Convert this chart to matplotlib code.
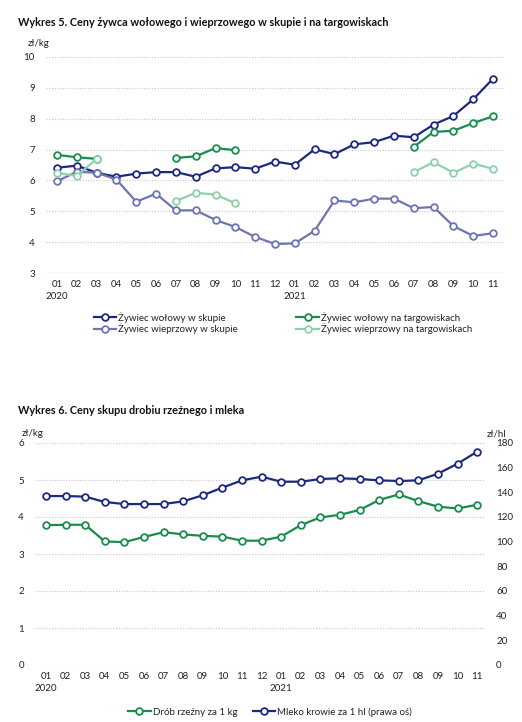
import numpy as np
import matplotlib
matplotlib.use("Agg")
import matplotlib.pyplot as plt

plt.rcParams['font.family'] = ['Lato', 'DejaVu Sans']

months = ['01','02','03','04','05','06','07','08','09','10','11','12',
          '01','02','03','04','05','06','07','08','09','10','11']
years = {0: '2020', 12: '2021'}
nan = np.nan

# Chart 5
wol_skup = [6.41, 6.48, 6.25, 6.12, 6.22, 6.27, 6.27, 6.12, 6.39, 6.43, 6.38, 6.61,
            6.51, 7.01, 6.85, 7.17, 7.24, 7.45, 7.40, 7.81, 8.09, 8.63, 9.30]
wol_targ = [6.83, 6.75, 6.70, nan, nan, nan, 6.73, 6.78, 7.05, 6.98, nan, nan,
            nan, nan, nan, nan, nan, nan, 7.09, 7.57, 7.61, 7.86, 8.08]
wiep_skup = [5.97, 6.28, 6.25, 6.03, 5.31, 5.57, 5.03, 5.03, 4.72, 4.49, 4.17, 3.94,
             3.96, 4.37, 5.35, 5.29, 5.41, 5.41, 5.10, 5.14, 4.52, 4.20, 4.29]
wiep_targ = [6.25, 6.14, 6.70, nan, nan, nan, 5.33, 5.60, 5.54, 5.26, nan, nan,
             nan, nan, nan, nan, nan, nan, 6.27, 6.59, 6.25, 6.54, 6.38]

# Chart 6
drob = [3.78, 3.79, 3.79, 3.34, 3.32, 3.46, 3.59, 3.53, 3.49, 3.47, 3.36, 3.36,
        3.47, 3.78, 3.99, 4.06, 4.19, 4.46, 4.61, 4.43, 4.28, 4.23, 4.33]
mleko = [137.0, 137.0, 136.5, 132.2, 130.5, 130.5, 130.5, 132.7, 137.6, 143.8, 149.7, 152.7,
         148.6, 148.6, 150.8, 151.4, 150.8, 149.7, 149.2, 149.7, 155.1, 163.2, 173.0]

C_DARK = '#1b2a7e'
C_GREEN = '#1a8c4e'
C_PURPLE = '#6f74b2'
C_LGREEN = '#8fd0aa'
TXT = '#222222'
GRID = '#c8c8c8'

W, H = 522, 722
fig = plt.figure(figsize=(W/100, H/100), dpi=100)

def box(l, t, r, b):
    return [l/W, 1-b/H, (r-l)/W, (b-t)/H]

x = np.arange(len(months))
xlabels = [m + ('\n' + years[i] if i in years else '') for i, m in enumerate(months)]
mk = dict(marker='o', markersize=4.8, markerfacecolor='white', markeredgewidth=1.3, linewidth=1.6)
FS = 7

def style(ax):
    for s in ax.spines.values():
        s.set_visible(False)
    ax.tick_params(length=0, labelsize=FS, colors=TXT)

# ---------- Chart 5 ----------
ax1 = fig.add_axes(box(46, 57, 503, 273))
ax1.set_xlim(-0.55, 22.5)
ax1.set_ylim(3, 10)
ax1.set_yticks(range(3, 11))
for v in range(4, 11):
    ax1.axhline(v, color=GRID, lw=0.8, ls=(0, (1, 1.5)), zorder=0)
ax1.axhline(3, color='#d0d0d0', lw=1.0, zorder=0)
l1, = ax1.plot(x, wol_skup, color=C_DARK, markeredgecolor=C_DARK, **mk)
l3, = ax1.plot(x, wiep_skup, color=C_PURPLE, markeredgecolor=C_PURPLE, **mk)
l2, = ax1.plot(x, wol_targ, color=C_GREEN, markeredgecolor=C_GREEN, **mk)
l4, = ax1.plot(x, wiep_targ, color=C_LGREEN, markeredgecolor=C_LGREEN, **mk)
ax1.set_xticks(x)
ax1.set_xticklabels(xlabels, linespacing=1.5)
style(ax1)
ax1.tick_params(axis='y', pad=8)
ax1.tick_params(axis='x', pad=5)
fig.text(18/W, 1-23/H, 'Wykres 5. Ceny żywca wołowego i wieprzowego w skupie i na targowiskach',
         fontsize=7.8, fontweight='bold', color='#111111', va='center', ha='left')
fig.text(28/W, 1-44/H, 'zł/kg', fontsize=FS, color=TXT, va='center', ha='left')
fig.legend([l1, l3, l2, l4],
           ['Żywiec wołowy w skupie', 'Żywiec wieprzowy w skupie',
            'Żywiec wołowy na targowiskach', 'Żywiec wieprzowy na targowiskach'],
           ncol=2, loc='upper center', bbox_to_anchor=(283/W, 1-307/H), frameon=False,
           fontsize=FS, handlelength=2.3, handletextpad=0.2, columnspacing=6.0,
           labelspacing=0.05, borderpad=0, labelcolor=TXT)

# ---------- Chart 6 ----------
ax2 = fig.add_axes(box(35, 443, 485, 665))
ax2.set_xlim(-0.56, 22.4)
ax2.set_ylim(0, 6)
ax2.set_yticks(range(0, 7))
for v in range(0, 7):
    ax2.axhline(v, color=GRID, lw=0.8, ls=(0, (1, 1.5)), zorder=0)
ax2.set_xticks(x)
ax2.set_xticklabels(xlabels, linespacing=1.5)
style(ax2)
ax2.tick_params(axis='y', pad=8)
ax2.tick_params(axis='x', pad=5)
ax3 = ax2.twinx()
ax3.set_ylim(0, 180)
ax3.set_yticks(range(0, 181, 20))
style(ax3)
ax3.tick_params(axis='y', pad=8)
ld, = ax2.plot(x, drob, color=C_GREEN, markeredgecolor=C_GREEN, **mk)
lm, = ax3.plot(x, mleko, color=C_DARK, markeredgecolor=C_DARK, **mk)
fig.text(18/W, 1-411/H, 'Wykres 6. Ceny skupu drobiu rzeźnego i mleka',
         fontsize=7.8, fontweight='bold', color='#111111', va='center', ha='left')
fig.text(22/W, 1-434/H, 'zł/kg', fontsize=FS, color=TXT, va='center', ha='left')
fig.text(487/W, 1-434/H, 'zł/hl', fontsize=FS, color=TXT, va='center', ha='left')
fig.legend([ld, lm], ['Drób rzeźny za 1 kg', 'Mleko krowie za 1 hl (prawa oś)'],
           ncol=2, loc='center', bbox_to_anchor=(270/W, 1-712/H), frameon=False,
           fontsize=FS, handlelength=2.3, handletextpad=0.2, columnspacing=1.6,
           borderpad=0, labelcolor=TXT)

fig.savefig('out.png', dpi=100, facecolor='white')
